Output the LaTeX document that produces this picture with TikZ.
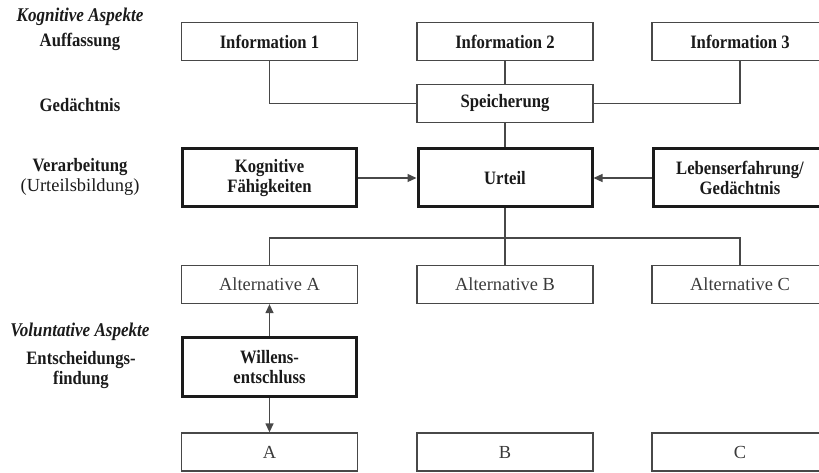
\documentclass[tikz,border=0pt]{standalone}
\usepackage{fontspec}
\setmainfont{Liberation Serif}[
  BoldFeatures={FakeStretch=0.88},
  BoldItalicFeatures={FakeStretch=0.88}]
\usetikzlibrary{arrows.meta}
\definecolor{ink}{HTML}{1A1A1A}
\definecolor{rule}{HTML}{484848}
\definecolor{softink}{HTML}{3A3A3A}
\begin{document}
\begin{tikzpicture}[x=1bp,y=-1bp,
  base/.style={draw=rule, rectangle, inner sep=0pt, align=center, text=ink},
  thinbox/.style={base, line width=1.3bp, minimum width=176bp, minimum height=38bp,
    font=\fontsize{19}{20}\selectfont\bfseries},
  plainbox/.style={base, line width=1.3bp, minimum width=176bp, minimum height=38bp,
    text=softink, font=\fontsize{18.5}{21}\selectfont},
  thickbox/.style={base, draw=ink, line width=3bp, minimum width=174bp, minimum height=58bp,
    font=\fontsize{19}{20}\selectfont\bfseries},
  lbl/.style={align=center, text=ink, inner sep=0pt, font=\fontsize{19}{20}\selectfont\bfseries},
  ital/.style={lbl, font=\fontsize{19.5}{20}\selectfont\bfseries\itshape},
  link/.style={draw=rule, line width=1.3bp},
  arr/.style={link, -{Triangle[length=9bp,width=8bp]}}]
\useasboundingbox (0,0) rectangle (819,473);

% left column: levels
\node[ital] (kogasp) at (80,17) {Kognitive Aspekte};
\node[lbl] (auff) at (80,42) {Auffassung};
\node[lbl] (ged) at (80,105) {Gedächtnis};
\node[lbl] (verarb) at (80,167) {Verarbeitung};
\node[lbl, font=\fontsize{18.5}{21}\selectfont] (urtb) at (80,187) {(Urteilsbildung)};
\node[ital] (volasp) at (80,332) {Voluntative Aspekte};
\node[lbl] (entsch) at (81,370) {Entscheidungs-\\findung};

% perception
\node[thinbox] (info1) at (269.5,41.5) {Information 1};
\node[thinbox] (info2) at (505,41.5) {Information 2};
\node[thinbox] (info3) at (740,41.5) {Information 3};
\node[thinbox] (speich) at (505,103.5) {Speicherung};

% processing
\node[thickbox] (kogfae) at (269.5,178) {Kognitive\\Fähigkeiten};
\node[thickbox] (urteil) at (505,178) {Urteil};
\node[thickbox] (leben) at (740,178) {Lebenserfahrung/\\Gedächtnis};

% alternatives
\node[plainbox] (altA) at (269.5,284.5) {Alternative A};
\node[plainbox] (altB) at (505,284.5) {Alternative B};
\node[plainbox] (altC) at (740,284.5) {Alternative C};

% decision
\node[thickbox] (will) at (269.5,367) {Willens-\\entschluss};
\node[plainbox] (outA) at (269.5,452) {A};
\node[plainbox] (outB) at (505,452) {B};
\node[plainbox] (outC) at (740,452) {C};

% connectors
\draw[link] (info1.south) |- (speich.west);
\draw[link] (info2.south) -- (speich.north);
\draw[link] (info3.south) |- (speich.east);
\draw[link] (speich.south) -- (urteil.north);
\draw[arr] (kogfae.east) -- (urteil.west);
\draw[arr] (leben.west) -- (urteil.east);

\coordinate (split) at (505,238);
\draw[link] (urteil.south) -- (split);
\draw[link] (altA.north) |- (split) -| (altC.north);
\draw[link] (split) -- (altB.north);

\draw[arr] (will.north) -- (altA.south);
\draw[arr] (will.south) -- (outA.north);
\end{tikzpicture}
\end{document}
